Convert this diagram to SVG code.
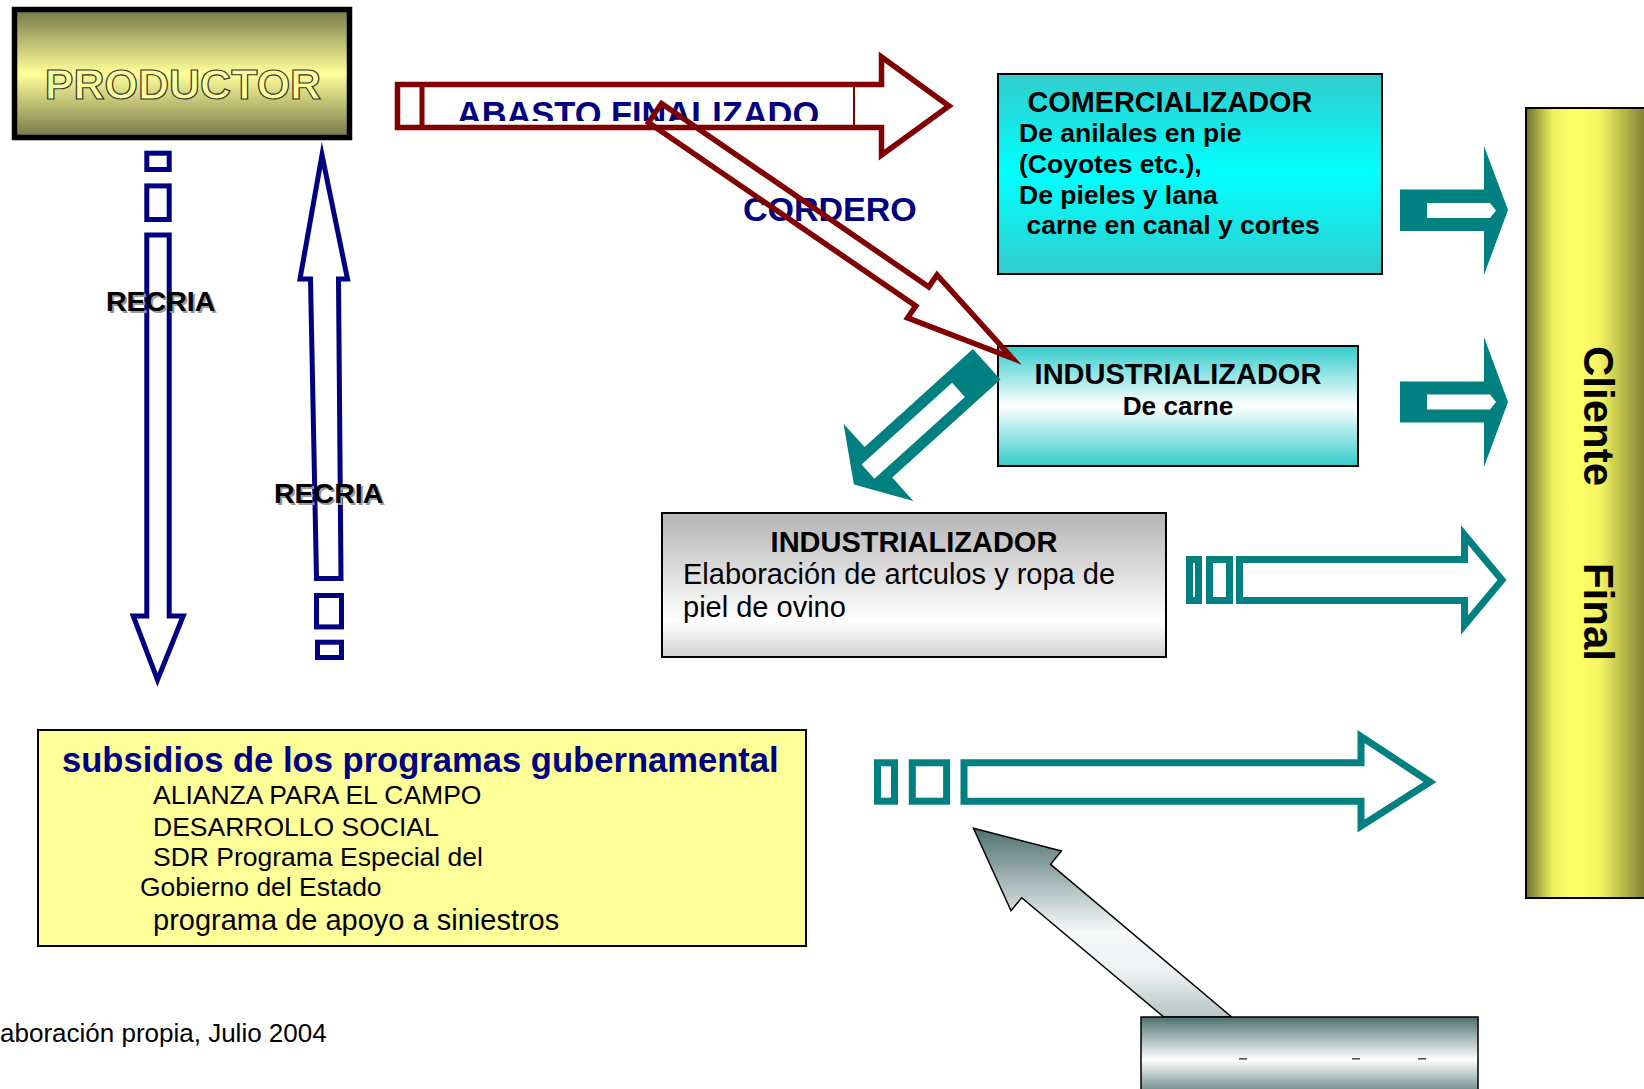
<svg xmlns="http://www.w3.org/2000/svg" width="1644" height="1089" viewBox="0 0 1644 1089">
<style>
text { font-family: 'Liberation Sans', Arial, sans-serif; }
.b { font-weight: bold; }
.box { stroke: #000; stroke-width: 2; }
.navy { fill: none; stroke: #000080; stroke-width: 5; stroke-miterlimit: 10; }
.red { fill: none; stroke: #800000; stroke-width: 5.5; stroke-miterlimit: 10; }
.tealo { fill: #fff; stroke: #008080; stroke-width: 7; stroke-miterlimit: 10; }
.teal { fill: #008080; }
.lbl { font-weight: bold; font-size: 28.5px; fill: #000; }
.shadow { font-weight: bold; font-size: 28.5px; fill: #9a9a9a; }
</style>
<defs>
  <linearGradient id="gProd" x1="0" y1="0" x2="0" y2="1">
    <stop offset="0" stop-color="#77774a"/>
    <stop offset="0.5" stop-color="#ffff99"/>
    <stop offset="1" stop-color="#77774a"/>
  </linearGradient>
  <linearGradient id="gCom" x1="0" y1="0" x2="0" y2="1">
    <stop offset="0" stop-color="#33cccc"/>
    <stop offset="0.5" stop-color="#00ffff"/>
    <stop offset="1" stop-color="#33cccc"/>
  </linearGradient>
  <linearGradient id="gInd" x1="0" y1="0" x2="0" y2="1">
    <stop offset="0" stop-color="#33cccc"/>
    <stop offset="0.5" stop-color="#ffffff"/>
    <stop offset="1" stop-color="#33cccc"/>
  </linearGradient>
  <linearGradient id="gPiel" x1="0" y1="0" x2="0" y2="1">
    <stop offset="0" stop-color="#b4b4b4"/>
    <stop offset="0.75" stop-color="#ffffff"/>
    <stop offset="1" stop-color="#d2d2d2"/>
  </linearGradient>
  <linearGradient id="gCli" x1="0" y1="0" x2="1" y2="0">
    <stop offset="0" stop-color="#6e6e2c"/>
    <stop offset="0.2" stop-color="#f0f060"/>
    <stop offset="0.35" stop-color="#ffff66"/>
    <stop offset="0.55" stop-color="#f5f562"/>
    <stop offset="0.88" stop-color="#858535"/>
    <stop offset="1" stop-color="#6e6e2c"/>
  </linearGradient>
  <linearGradient id="gCyl" x1="0" y1="0" x2="0" y2="1">
    <stop offset="0" stop-color="#4d7070"/>
    <stop offset="0.52" stop-color="#ffffff"/>
    <stop offset="1" stop-color="#4d7070"/>
  </linearGradient>
  <linearGradient id="gArr" gradientUnits="userSpaceOnUse" x1="0" y1="828" x2="0" y2="1017">
    <stop offset="0" stop-color="#4f7070"/>
    <stop offset="0.55" stop-color="#f8fafa"/>
    <stop offset="0.75" stop-color="#eef2f2"/>
    <stop offset="1" stop-color="#b8c4c4"/>
  </linearGradient>
  <clipPath id="cAbasto">
    <rect x="424" y="87" width="428" height="34"/>
  </clipPath>
</defs>

<rect width="1644" height="1089" fill="#fff"/>

<g id="nodes">
  <g id="productor">
    <rect x="14.5" y="9.5" width="335" height="128" fill="url(#gProd)" stroke="#000" stroke-width="5.5"/>
    <text x="183" y="99" text-anchor="middle" class="b" font-size="43" fill="#ffff99" stroke="#333" stroke-width="1.2">PRODUCTOR</text>
  </g>
  <g id="comercializador">
    <rect x="998" y="74" width="384" height="200" fill="url(#gCom)" class="box"/>
    <text x="1027.5" y="112" class="b" font-size="28.8">COMERCIALIZADOR</text>
    <text x="1019" y="142" class="b" font-size="26.5">De anilales en pie</text>
    <text x="1019" y="173" class="b" font-size="26.5">(Coyotes etc.),</text>
    <text x="1019" y="204" class="b" font-size="26.5">De pieles y lana</text>
    <text x="1026.5" y="234" class="b" font-size="26.5">carne en canal y cortes</text>
  </g>
  <g id="industrializador-carne">
    <rect x="998" y="346" width="360" height="120" fill="url(#gInd)" class="box"/>
    <text x="1178" y="383.5" text-anchor="middle" class="b" font-size="29">INDUSTRIALIZADOR</text>
    <text x="1178" y="415" text-anchor="middle" class="b" font-size="26.2">De carne</text>
  </g>
  <g id="industrializador-piel">
    <rect x="662" y="513" width="504" height="144" fill="url(#gPiel)" class="box"/>
    <text x="914" y="552" text-anchor="middle" class="b" font-size="29">INDUSTRIALIZADOR</text>
    <text x="683" y="584" font-size="29">Elaboración de artculos y ropa de</text>
    <text x="683" y="617" font-size="29">piel de ovino</text>
  </g>
  <g id="cliente-final">
    <rect x="1526" y="108" width="134" height="790" fill="url(#gCli)" class="box"/>
    <text transform="translate(1584,346) rotate(90)" class="b" font-size="42">Cliente<tspan x="205.3"> Final</tspan></text>
  </g>
  <g id="subsidios">
    <rect x="38" y="730" width="768" height="216" fill="#ffff99" class="box"/>
    <text x="62" y="772" class="b" font-size="34.6" fill="#000080">subsidios de los programas gubernamental</text>
    <text x="153" y="804" font-size="26.5">ALIANZA PARA EL CAMPO</text>
    <text x="153" y="835.5" font-size="26.5">DESARROLLO SOCIAL</text>
    <text x="153" y="866" font-size="26.5">SDR Programa Especial del</text>
    <text x="140" y="896" font-size="26.5">Gobierno del Estado</text>
    <text x="153" y="930" font-size="29">programa de apoyo a siniestros</text>
  </g>
  <g id="fuente">
    <text x="0" y="1042" font-size="26">aboración propia, Julio 2004</text>
  </g>
</g>

<g id="connectors">
  <!-- ABASTO FINALIZADO -->
  <g id="abasto">
    <path class="red" d="M 397.5,84.5 L 881.5,84.5 L 881.5,57 L 949,106 L 881.5,155 L 881.5,127.5 L 397.5,127.5 Z" fill="#fff"/>
    <line x1="422" y1="84.5" x2="422" y2="127.5" stroke="#800000" stroke-width="5"/>
    <line x1="854" y1="84.5" x2="854" y2="127.5" stroke="#800000" stroke-width="2"/>
    <text x="638" y="125.5" text-anchor="middle" class="b" font-size="34.4" fill="#000080" clip-path="url(#cAbasto)">ABASTO FINALIZADO</text>
  </g>
  <!-- CORDERO -->
  <g id="cordero">
    <text x="743" y="221" class="b" font-size="34" fill="#000080">CORDERO</text>
    <path class="red" d="M 661.5,103.5 L 928.8,286.9 L 937,274.9 L 1012,358 L 907.6,317.9 L 915.8,305.9 L 648.5,122.5 Z"/>
  </g>
  <!-- RECRIA down -->
  <g id="recria-down">
    <rect class="navy" x="146.8" y="153.2" width="22.4" height="16.3" fill="#fff"/>
    <rect class="navy" x="146.8" y="185.9" width="22.4" height="33.6" fill="#fff"/>
    <path class="navy" d="M 146.8,235 L 169.2,235 L 169.2,616 L 183.2,616 L 157.5,680 L 133.2,616 L 146.8,616 Z" fill="#fff"/>
    <text x="108" y="312.5" class="shadow">RECRIA</text>
    <text x="106" y="310.5" class="lbl">RECRIA</text>
  </g>
  <!-- RECRIA up -->
  <g id="recria-up">
    <path class="navy" d="M 322,155 L 347.5,279 L 338.5,279 L 341,578.5 L 316.5,578.5 L 310.5,279 L 300,279 Z" fill="#fff"/>
    <rect class="navy" x="316.5" y="595.5" width="25" height="31.4" fill="#fff"/>
    <rect class="navy" x="317.5" y="642.2" width="24" height="15.3" fill="#fff"/>
    <text x="276" y="505" class="shadow">RECRIA</text>
    <text x="274" y="503" class="lbl">RECRIA</text>
  </g>
  <!-- teal diagonal from industrializador carne to piel -->
  <g id="carne-to-piel">
    <polygon class="teal" points="972.9,349.1 864.6,447.1 843.5,423.7 853.9,484.4 913.3,500.9 892.2,477.5 1000.5,379.5"/>
    <polygon fill="#fff" points="952.1,382.8 861.6,464.6 874.4,478.7 964.9,396.9"/>
  </g>
  <!-- teal solid arrows to cliente -->
  <g id="com-to-cliente">
    <polygon class="teal" points="1400,189.5 1484,189.5 1484,146 1508,210 1484,275 1484,231 1400,231"/>
    <polygon fill="#fff" points="1427,203 1490,203 1496,210.5 1490,218 1427,218"/>
  </g>
  <g id="carne-to-cliente">
    <polygon class="teal" points="1400,381.5 1484,381.5 1484,337 1508,402 1484,467 1484,422.5 1400,422.5"/>
    <polygon fill="#fff" points="1427,394.5 1490,394.5 1496,402 1490,409.5 1427,409.5"/>
  </g>
  <!-- teal striped arrow piel to cliente -->
  <g id="piel-to-cliente">
    <rect class="tealo" x="1189.5" y="559.5" width="9" height="41"/>
    <rect class="tealo" x="1209.5" y="559.5" width="20" height="41"/>
    <path class="tealo" d="M 1239.5,559.5 L 1464.5,559.5 L 1464.5,535 L 1502,580 L 1464.5,625 L 1464.5,600.5 L 1239.5,600.5 Z"/>
  </g>
  <!-- teal striped arrow subsidios to cliente -->
  <g id="subsidios-to-cliente">
    <rect class="tealo" x="877.5" y="762.8" width="17" height="38.4" stroke-width="7.5"/>
    <rect class="tealo" x="912.3" y="762.8" width="34.3" height="38.4" stroke-width="7.5"/>
    <path class="tealo" stroke-width="7.5" d="M 964,762.8 L 1361,762.8 L 1361,736.5 L 1430,782 L 1361,826 L 1361,801.2 L 964,801.2 Z"/>
  </g>
  <!-- gray arrow up-left -->
  <g id="base-to-subsidios">
    <polygon fill="url(#gArr)" stroke="#000" stroke-width="1.5" points="973.5,828.3 1061.4,851 1050.6,864.3 1231.6,1017 1163.8,1017 1021.7,897.7 1011,910.7"/>
  </g>
</g>

<g id="base-box">
  <rect x="1141" y="1017" width="337" height="82" fill="url(#gCyl)" stroke="#000" stroke-width="1.5"/>
  <rect x="1239" y="1058" width="8" height="1.6" fill="#555"/>
  <rect x="1352" y="1058" width="8" height="1.6" fill="#555"/>
  <rect x="1418" y="1058" width="8" height="1.6" fill="#555"/>
</g>
</svg>
